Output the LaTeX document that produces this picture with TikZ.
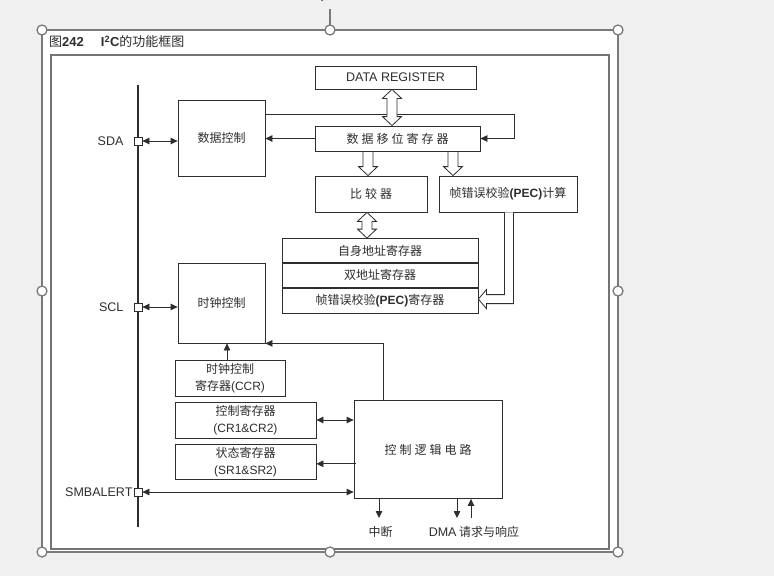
\documentclass[tikz,border=0pt]{standalone}
\usepackage{fontspec}
\setmainfont{Liberation Sans}
\newfontfamily\cjk{Noto Sans CJK SC}
\usetikzlibrary{arrows.meta,positioning,calc}
\definecolor{ink}{HTML}{2E2E2E}
\definecolor{uigray}{HTML}{F0F0F0}
\definecolor{selgray}{HTML}{7A7A7A}
\newcommand{\lat}[1]{{\rmfamily #1}}
\newcommand{\gp}{\hspace{3pt}}
% hollow wide arrows: #1 top point, #2 bottom point
\newcommand{\hollowdown}[2]{\draw[hollow] ($(#1)+(-5,0)$) -- ($(#2)+(-5,-9)$) -- ++(-4.5,0) -- (#2) -- ++(9.5,-9) -- ++(-4.5,0) -- ($(#1)+(5,0)$) -- cycle;}
\newcommand{\hollowboth}[2]{\draw[hollow] (#1) -- ++(9.5,9) -- ++(-4.5,0) -- ($(#2)+(5,-9)$) -- ++(4.5,0) -- (#2) -- ++(-9.5,-9) -- ++(4.5,0) -- ($(#1)+(-5,9)$) -- ++(-4.5,0) -- cycle;}

\begin{document}
\begin{tikzpicture}[x=1pt,y=-1pt,
  box/.style={draw=ink,line width=0.8pt,inner sep=0pt,align=center,text=ink,font=\fontsize{12}{17}\selectfont\cjk},
  arr/.style={-{Triangle[length=7pt,width=6.5pt]},line width=0.8pt,draw=ink},
  dbl/.style={{Triangle[length=7pt,width=6.5pt]}-{Triangle[length=7pt,width=6.5pt]},line width=0.8pt,draw=ink},
  hollow/.style={draw=ink,fill=white,line width=0.8pt,line join=miter},
  pin/.style={draw=ink,fill=white,line width=0.8pt,minimum size=8pt,inner sep=0pt},
  lbl/.style={text=ink,inner sep=1pt,font=\fontsize{12.5}{14}\selectfont},
  handle/.style={circle,draw=selgray,fill=white,line width=1.3pt,minimum size=10pt,inner sep=0pt}]
\useasboundingbox (0,0) rectangle (774,576);
% screen and selection frame
\fill[uigray] (0,0) rectangle (774,576);
\fill[white] (42,30) rectangle (618,552);
\draw[selgray,line width=1.2pt] (42,30) rectangle (618,552);
\draw[selgray,line width=1.2pt] (330,30) -- (330,9);
\draw[selgray,line width=2pt] (322,1) arc[start angle=180,end angle=330,radius=8];
\draw[black!55,line width=1.3pt] (51,55) rectangle (609,549);
\node[anchor=west,text=ink,inner sep=0pt,font=\fontsize{13}{15}\selectfont] (title) at (49,42)
  {\cjk 图\lat{\bfseries 242}\hspace{17pt}\lat{\bfseries I\textsuperscript{2}C}的功能框图};

% bus and pins
\coordinate (bustop) at (138,85);
\coordinate (busbot) at (138,527);
\draw[ink,line width=2.4pt] (bustop) -- (busbot);
\node[pin] (sdapin) at (138,141) {};
\node[pin] (sclpin) at (138,307) {};
\node[pin] (smbpin) at (138,492) {};
\node[lbl,left=9pt of sdapin] (sdalbl) {SDA};
\node[lbl,left=9pt of sclpin] (scllbl) {SCL};
\node[lbl,left=0pt of smbpin] (smblbl) {SMBALERT};

% blocks
\node[box,minimum width=161pt,minimum height=23pt] (datareg) at (395.5,77.5) {\lat{\fontsize{12.5}{15}\selectfont DATA REGISTER}};
\node[box,minimum width=165pt,minimum height=25pt] (shift) at (397.5,138.5) {数\gp 据\gp 移\gp 位\gp 寄\gp 存\gp 器};
\node[box,minimum width=112pt,minimum height=36pt] (cmp) at (371,194) {比\gp 较\gp 器};
\node[box,minimum width=138pt,minimum height=36pt] (pecc) at (508,194) {帧错误校验\lat{\bfseries (PEC)}计算};
\node[box,minimum width=196pt,minimum height=24pt] (selfaddr) at (380,250.5) {自身地址寄存器};
\node[box,minimum width=196pt,minimum height=24pt,below=0pt of selfaddr] (dualaddr) {双地址寄存器};
\node[box,minimum width=196pt,minimum height=25pt,below=0pt of dualaddr] (pecreg) {帧错误校验\lat{\bfseries (PEC)}寄存器};
\node[box,minimum width=87pt,minimum height=76pt] (datactl) at (221.5,138) {数据控制};
\node[box,minimum width=87pt,minimum height=80pt] (clkctl) at (221.5,303) {时钟控制};
\node[box,minimum width=110pt,minimum height=36pt] (ccr) at (230,378) {时钟控制\\寄存器\lat{(CCR)}};
\node[box,minimum width=141pt,minimum height=36pt] (cr) at (245.5,420) {控制寄存器\\\lat{(CR1\&CR2)}};
\node[box,minimum width=141pt,minimum height=35pt,below=6pt of cr] (sr) {状态寄存器\\\lat{(SR1\&SR2)}};
\node[box,minimum width=148pt,minimum height=98pt] (logic) at (428,449.5) {控\gp 制\gp 逻\gp 辑\gp 电\gp 路};

% thin connectors
\coordinate (turn) at (514,114);
\draw[dbl] (sdapin.east) -- (sdapin.east -| datactl.west);
\draw[dbl] (sclpin.east) -- (sclpin.east -| clkctl.west);
\draw[dbl] (smbpin.east) -- (smbpin.east -| logic.west);
\draw[arr] (datactl.east |- turn) -- (turn) |- (shift.east);
\draw[arr] (shift.west) -- (shift.west -| datactl.east);
\draw[arr] ($(logic.north west)+(30,0)$) |- (clkctl.south east);
\draw[arr] ($(ccr.north)+(-3,0)$) -- ($(clkctl.south)+(5.5,0)$);
\draw[dbl] (cr.east) -- (cr.east -| logic.west);
\draw[arr] ($(logic.west |- sr.east)+(2,1.5)$) -- ($(sr.east)+(0,1.5)$);
\coordinate (irq) at (379,518);
\coordinate (dmareq) at (457,518);
\coordinate (dmaack) at (471,518);
\draw[arr] (logic.south -| irq) -- (irq);
\draw[arr] (logic.south -| dmareq) -- (dmareq);
\draw[arr] (dmaack) -- (logic.south -| dmaack);
\node[lbl,font=\fontsize{12}{14}\selectfont\cjk] (irqlbl) at (380.5,532) {中断};
\node[lbl,font=\fontsize{12}{14}\selectfont\cjk] (dmalbl) at (474,532) {\lat{\fontsize{12.5}{14}\selectfont DMA} 请求与响应};

% hollow bus arrows
\coordinate (h1t) at ($(datareg.south)+(-3.5,0)$);
\coordinate (h2t) at ($(cmp.south)+(-4,0)$);
\hollowboth{h1t}{h1t |- shift.north}
\hollowboth{h2t}{h2t |- selfaddr.north}
\coordinate (d1) at ($(shift.south -| cmp.north)+(-3,0)$);
\coordinate (d2) at (shift.south -| 453,0);
\hollowdown{d1}{d1 |- cmp.north}
\hollowdown{d2}{d2 |- pecc.north}
\coordinate (pb) at ($(pecc.south)+(1,0)$);
\coordinate (pt) at ($(pecreg.east)+(0,-1.5)$);
\draw[hollow] ($(pb)+(-4.5,0)$) |- ($(pt)+(8,-4.5)$) -- ($(pt)+(8,-9.5)$) -- (pt) -- ($(pt)+(8,9.5)$) -- ($(pt)+(8,4.5)$) -| ($(pb)+(4.5,0)$);

% selection handles
\foreach \hx/\hy in {42/30,330/30,618/30,42/291,618/291,42/552,330/552,618/552}
  \node[handle] at (\hx,\hy) {};
\end{tikzpicture}
\end{document}
